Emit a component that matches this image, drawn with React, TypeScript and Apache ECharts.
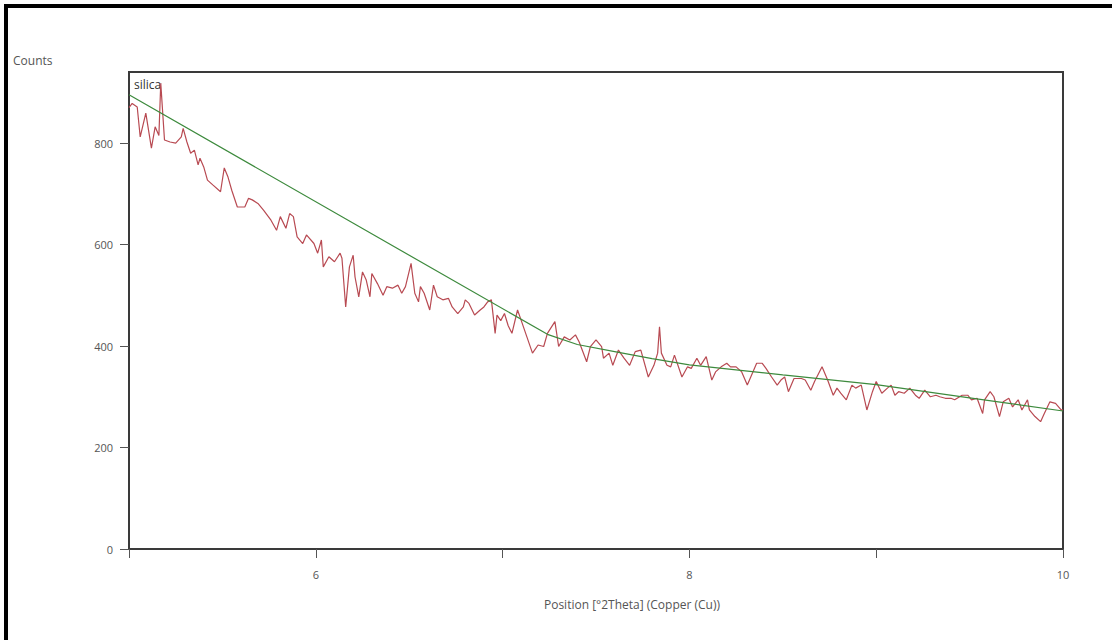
import React, { useEffect, useRef } from "react";
import * as echarts from "echarts";

const positions = [
  5.00, 5.017, 5.044, 5.06, 5.09, 5.12, 5.14, 5.16, 5.17, 5.19, 5.22, 5.25, 5.28, 5.29, 5.31, 5.33, 5.35, 5.37, 5.38, 5.40,
  5.42, 5.45, 5.49, 5.51, 5.53, 5.55, 5.58, 5.62, 5.64, 5.66, 5.69, 5.72, 5.76, 5.79, 5.81, 5.84, 5.86, 5.88, 5.90, 5.93,
  5.95, 5.99, 6.01, 6.03, 6.04, 6.07, 6.10, 6.13, 6.14, 6.16, 6.18, 6.20, 6.21, 6.23, 6.25, 6.27, 6.29, 6.30, 6.33, 6.36,
  6.38, 6.41, 6.44, 6.46, 6.48, 6.51, 6.53, 6.55, 6.56, 6.58, 6.61, 6.63, 6.65, 6.68, 6.71, 6.73, 6.76, 6.79, 6.80, 6.82,
  6.85, 6.88, 6.90, 6.92, 6.94, 6.96, 6.97, 6.99, 7.01, 7.03, 7.05, 7.08, 7.10, 7.13, 7.16, 7.19, 7.22, 7.24, 7.28, 7.30,
  7.33, 7.36, 7.39, 7.41, 7.45, 7.47, 7.50, 7.53, 7.54, 7.57, 7.59, 7.62, 7.65, 7.68, 7.71, 7.74, 7.78, 7.81, 7.83, 7.84,
  7.85, 7.88, 7.90, 7.92, 7.96, 7.99, 8.01, 8.04, 8.06, 8.09, 8.12, 8.14, 8.17, 8.20, 8.22, 8.25, 8.28, 8.31, 8.34, 8.36,
  8.39, 8.41, 8.44, 8.47, 8.49, 8.51, 8.53, 8.56, 8.60, 8.62, 8.65, 8.67, 8.71, 8.74, 8.77, 8.79, 8.81, 8.84, 8.87, 8.89,
  8.92, 8.95, 8.98, 9.00, 9.03, 9.06, 9.08, 9.10, 9.12, 9.15, 9.18, 9.21, 9.23, 9.26, 9.29, 9.32, 9.34, 9.37, 9.40, 9.42,
  9.46, 9.49, 9.51, 9.54, 9.57, 9.58, 9.61, 9.63, 9.66, 9.68, 9.71, 9.73, 9.76, 9.78, 9.81, 9.82, 9.85, 9.88, 9.90, 9.93,
  9.96, 9.99, 10.00,
];

const counts = [
  870, 878, 871, 812, 859, 790, 832, 815, 918, 806, 802, 800, 812, 829, 802, 780, 786, 757, 770, 753,
  727, 717, 704, 751, 733, 707, 674, 674, 691, 688, 681, 668, 648, 628, 655, 632, 661, 655, 615, 602,
  619, 602, 583, 609, 556, 576, 566, 583, 573, 477, 556, 579, 536, 497, 546, 530, 497, 543, 523, 500,
  517, 514, 520, 504, 517, 563, 504, 487, 517, 504, 471, 520, 497, 491, 494, 477, 464, 477, 491, 484,
  461, 471, 477, 487, 491, 425, 461, 450, 464, 440, 425, 471, 450, 418, 386, 402, 399, 425, 448, 399,
  418, 412, 422, 408, 369, 399, 412, 399, 376, 386, 362, 392, 376, 362, 389, 392, 339, 362, 386, 438,
  386, 362, 359, 382, 339, 359, 356, 376, 362, 379, 333, 349, 359, 366, 359, 359, 349, 323, 349, 366,
  366, 356, 339, 323, 333, 339, 310, 336, 336, 333, 313, 330, 359, 333, 303, 317, 307, 294, 323, 317,
  323, 274, 310, 330, 307, 317, 323, 303, 310, 307, 317, 303, 297, 313, 300, 303, 300, 297, 297, 294,
  303, 303, 294, 297, 267, 294, 310, 300, 261, 290, 297, 280, 294, 274, 294, 274, 261, 251, 267, 290,
  287, 274, 274,
];

const bgPositions = [5.0, 7.24, 7.4, 7.6, 7.8, 8.0, 8.5, 9.0, 9.5, 10.0];
const bgCounts = [895, 423, 403, 389, 375, 363, 343, 324, 298, 272];

const yTicks = [0, 200, 400, 600, 800];
const xTicks = [5, 6, 7, 8, 9, 10];
const xLabels = [6, 8, 10];

export default function App() {
  const ref = useRef<HTMLDivElement>(null);
  useEffect(() => {
    if (!ref.current) return;
    const chart = echarts.init(ref.current, null, { renderer: "svg" });
    const font = "'Open Sans', 'Noto Sans', sans-serif";
    chart.setOption({
      animation: false,
      backgroundColor: "#ffffff",
      grid: {
        left: 129,
        right: 49,
        top: 72,
        bottom: 91,
        show: true,
        borderColor: "#3a3a3a",
        borderWidth: 2,
        backgroundColor: "transparent",
      },
      xAxis: {
        type: "value",
        min: 5,
        max: 10,
        interval: 1,
        axisLine: { show: true, onZero: false, lineStyle: { color: "#3a3a3a", width: 2 } },
        axisTick: { show: true, length: 9, customValues: xTicks, lineStyle: { color: "#555", width: 1 } },
        axisLabel: {
          customValues: xLabels,
          color: "#555",
          fontSize: 11,
          fontFamily: font,
          margin: 20,
        },
        splitLine: { show: false },
      },
      yAxis: {
        type: "value",
        min: 0,
        max: 940,
        axisLine: { show: true, lineStyle: { color: "#3a3a3a", width: 2 } },
        axisTick: { show: true, length: 9, customValues: yTicks, lineStyle: { color: "#555", width: 1 } },
        axisLabel: {
          customValues: yTicks,
          color: "#555",
          fontSize: 11,
          fontFamily: font,
          margin: 16,
        },
        splitLine: { show: false },
      },
      graphic: [
        { type: "rect", shape: { x: 4, y: 4, width: 1108, height: 4 }, style: { fill: "#000" } },
        { type: "rect", shape: { x: 4, y: 4, width: 4, height: 636 }, style: { fill: "#000" } },
        {
          type: "text",
          left: 13,
          top: 54,
          style: { text: "Counts", fill: "#555", font: `12px ${font}` },
        },
        {
          type: "text",
          left: 134,
          top: 78,
          style: { text: "silica", fill: "#333", font: `12px ${font}` },
        },
        {
          type: "text",
          x: 632,
          y: 604,
          style: {
            text: "Position [°2Theta] (Copper (Cu))",
            fill: "#555",
            font: `12px ${font}`,
            align: "center",
            verticalAlign: "middle",
          },
        },
      ],
      series: [
        {
          type: "line",
          name: "silica",
          data: positions.map((p, i) => [p, counts[i]]),
          showSymbol: false,
          lineStyle: { color: "#b84a52", width: 1.2 },
          z: 2,
        },
        {
          type: "line",
          name: "background",
          data: bgPositions.map((p, i) => [p, bgCounts[i]]),
          showSymbol: false,
          lineStyle: { color: "#3d8a3d", width: 1.2 },
          z: 3,
        },
      ],
    });
    return () => chart.dispose();
  }, []);
  return (
    <div
      ref={ref}
      style={{ position: "fixed", left: 0, top: 0, width: 1112, height: 640 }}
    />
  );
}
